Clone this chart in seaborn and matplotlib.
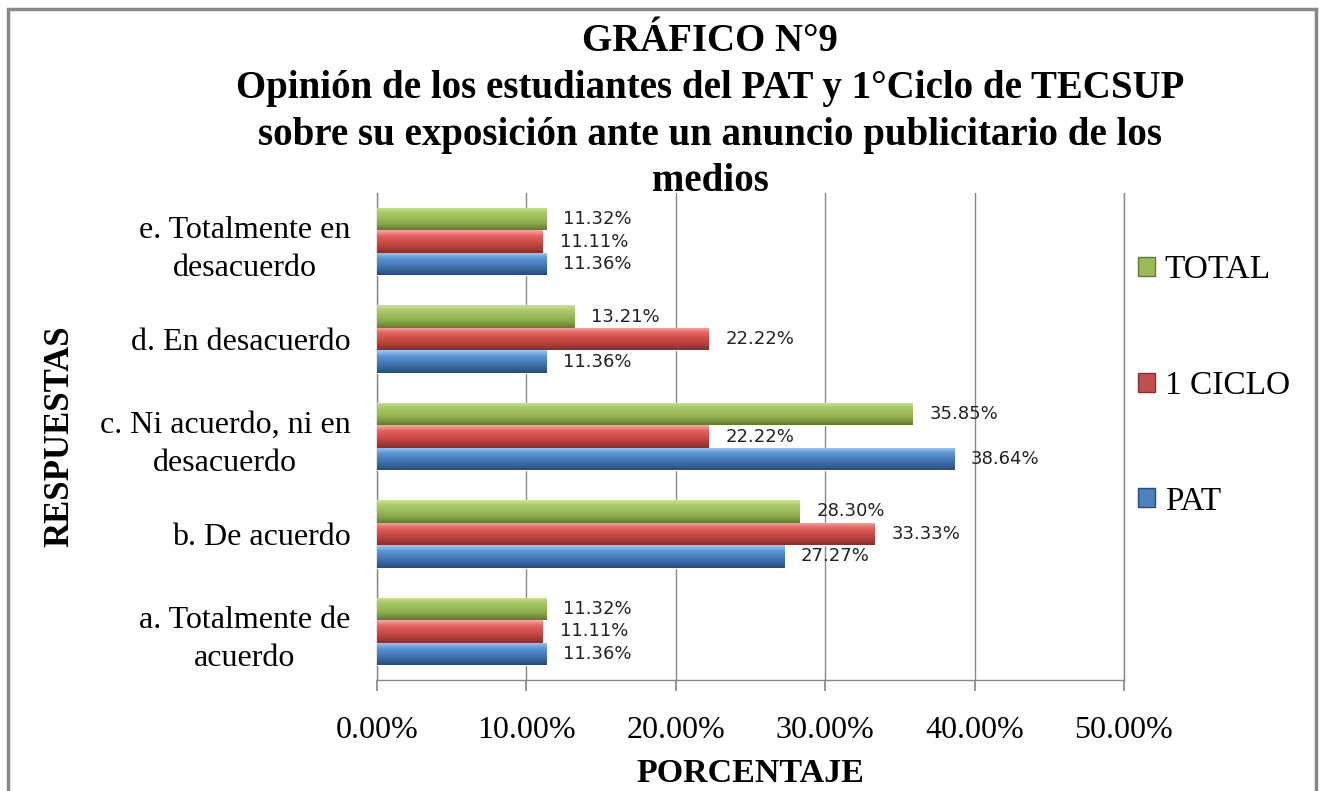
import matplotlib
matplotlib.use("Agg")
import matplotlib.pyplot as plt
from matplotlib.colors import LinearSegmentedColormap
from matplotlib.patches import Patch, Rectangle
import numpy as np
import pandas as pd
import seaborn as sns

# Data
respuestas = [
    "e. Totalmente en\ndesacuerdo",
    "d. En desacuerdo",
    "c. Ni acuerdo, ni en\ndesacuerdo",
    "b. De acuerdo",
    "a. Totalmente de\nacuerdo",
]
series = ["TOTAL", "1 CICLO", "PAT"]
total = [11.32, 13.21, 35.85, 28.30, 11.32]
ciclo1 = [11.11, 22.22, 22.22, 33.33, 11.11]
pat = [11.36, 11.36, 38.64, 27.27, 11.36]

df = pd.DataFrame({
    "respuesta": respuestas * 3,
    "serie": ["TOTAL"] * 5 + ["1 CICLO"] * 5 + ["PAT"] * 5,
    "valor": total + ciclo1 + pat,
})

colors = {"TOTAL": "#9bbb59", "1 CICLO": "#c0504d", "PAT": "#4f81bd"}
# light top -> base -> dark bottom, like the Excel bevel
gradients = {
    "TOTAL": ["#cfe39c", "#a8c766", "#9bbb59", "#86a347", "#62792f"],
    "1 CICLO": ["#f9a8a5", "#e2635f", "#cf4d49", "#b23e3b", "#86302d"],
    "PAT": ["#a2cbf5", "#5f97d6", "#4a7fc0", "#3a67a0", "#284b78"],
}

sns.set_theme(style="white")
plt.rcParams["font.family"] = ["Liberation Serif", "DejaVu Serif"]
plt.rcParams["text.color"] = "black"
plt.rcParams["axes.labelcolor"] = "black"
plt.rcParams["xtick.color"] = "black"
plt.rcParams["ytick.color"] = "black"

fig = plt.figure(figsize=(13.24, 7.91), dpi=100)
ax = fig.add_axes([377 / 1324, 1 - 680 / 791, (1124 - 377) / 1324, (680 - 193) / 791])

sns.barplot(data=df, x="valor", y="respuesta", hue="serie", order=respuestas,
            hue_order=series, palette=colors, width=0.69, orient="h",
            legend=False, ax=ax, saturation=1, zorder=3)

grad = np.linspace(0, 1, 64).reshape(-1, 1)
for serie, cont in zip(series, ax.containers):
    cmap = LinearSegmentedColormap.from_list(serie, gradients[serie])
    for bar in cont:
        x0, y0 = bar.get_x(), bar.get_y()
        w, h = bar.get_width(), bar.get_height()
        im = ax.imshow(grad, cmap=cmap, extent=(x0, x0 + w, y0 + h, y0),
                       aspect="auto", interpolation="bicubic", zorder=4)
        im.set_clip_path(bar)
        ax.annotate(f"{w:.2f}%", (x0 + w, y0 + h / 2), xytext=(12, 0),
                    textcoords="offset points", ha="left", va="center",
                    fontsize=13, family="DejaVu Sans", color="#222222", zorder=5)

ax.set_xlim(0, 50)
ax.set_ylim(4.5, -0.5)
ticks = [0, 10, 20, 30, 40, 50]
ax.set_xticks(ticks)
ax.set_xticklabels([f"{t:.2f}%" for t in ticks], fontsize=23)
ax.tick_params(axis="x", direction="out", length=8, color="#888888", pad=18,
               bottom=True)
ax.tick_params(axis="y", length=0, pad=19, labelsize=23)
for lbl in ax.get_yticklabels():
    lbl.set_multialignment("center")
    lbl.set_linespacing(1.4)
ax.xaxis.grid(True, color="#888888", linewidth=1, zorder=0)
ax.set_axisbelow(True)
ax.spines["top"].set_visible(False)
for s in ["left", "bottom", "right"]:
    ax.spines[s].set_color("#888888")
    ax.spines[s].set_linewidth(1)

ax.set_xlabel("PORCENTAJE", fontsize=24.5, fontweight="bold", labelpad=9)
ax.set_ylabel("RESPUESTAS", fontsize=25, fontweight="bold", labelpad=17)

handles = [Patch(facecolor=colors[s], edgecolor=gradients[s][-1]) for s in series]
fig.legend(handles, series, loc="upper left",
           bbox_to_anchor=(1108 / 1324, 1 - 225 / 791), frameon=False,
           fontsize=24, labelspacing=2.55, handlelength=0.5, handleheight=0.5,
           handletextpad=0.3)

fig.text(710 / 1324, 1 - 23 / 791,
         "GRÁFICO N°9\nOpinión de los estudiantes del PAT y 1°Ciclo de TECSUP\n"
         "sobre su exposición ante un anuncio publicitario de los\nmedios",
         ha="center", va="top", fontsize=28, fontweight="bold",
         linespacing=1.35, multialignment="center")

fig.add_artist(Rectangle((8 / 1324, -0.02), (1316 - 8) / 1324, (791 - 9) / 791 + 0.02,
                         fill=False, edgecolor="#888888", linewidth=2.5,
                         transform=fig.transFigure))

fig.savefig("out.png", dpi=100)
